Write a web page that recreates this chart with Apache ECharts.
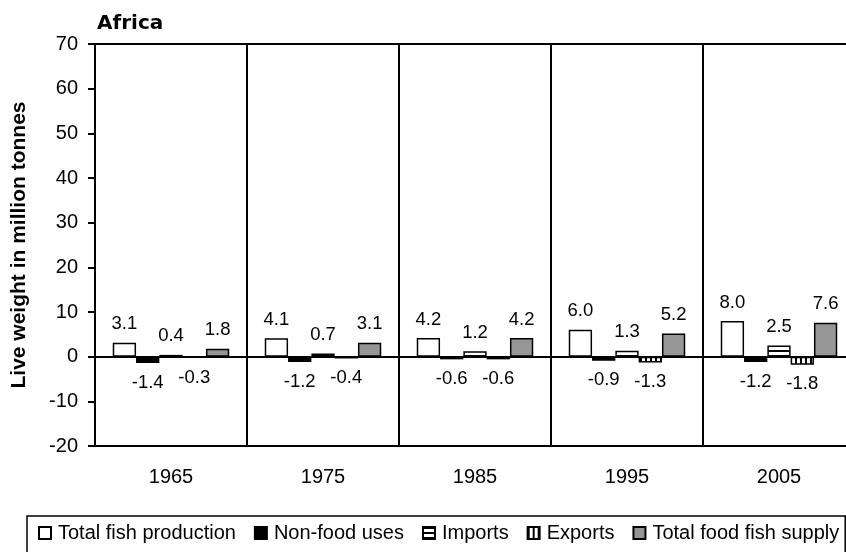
<!DOCTYPE html>
<html>
<head>
<meta charset="utf-8">
<script src="https://cdn.jsdelivr.net/npm/echarts@6/dist/echarts.min.js"></script>
<style>html,body{margin:0;padding:0;background:#fff;}#c{width:846px;height:552px;}</style>
</head>
<body>
<div id="c"></div>
<script>
const years = ['1965', '1975', '1985', '1995', '2005'];
const totalProduction = [3.1, 4.1, 4.2, 6.0, 8.0];
const nonFoodUses = [-1.4, -1.2, -0.6, -0.9, -1.2];
const imports = [0.4, 0.7, 1.2, 1.3, 2.5];
const exportsData = [-0.3, -0.4, -0.6, -1.3, -1.8];
const foodSupply = [1.8, 3.1, 4.2, 5.2, 7.6];
const seriesNames = ['Total fish production', 'Non-food uses', 'Imports', 'Exports', 'Total food fish supply'];
const yTicks = [-20, -10, 0, 10, 20, 30, 40, 50, 60, 70];

function makePattern(horizontal) {
  const c = document.createElement('canvas');
  c.width = 5; c.height = 5;
  const ctx = c.getContext('2d');
  ctx.fillStyle = '#fff';
  ctx.fillRect(0, 0, 5, 5);
  ctx.fillStyle = '#000';
  if (horizontal) ctx.fillRect(0, 0, 5, 2);
  else ctx.fillRect(0, 0, 2, 5);
  return { image: c, repeat: 'repeat' };
}

const FONT = "'Liberation Sans', Arial, sans-serif";
const LEGEND_FS = 20;
const fills = ['#ffffff', '#000000', makePattern(true), makePattern(false), '#969696'];
const datas = [totalProduction, nonFoodUses, imports, exportsData, foodSupply];

// legend spacing so that the legend box spans the given width
const mc = document.createElement('canvas').getContext('2d');
mc.font = LEGEND_FS + 'px ' + FONT;
const iconW = 12, textPadL = 2;
let contentW = 0;
seriesNames.forEach(n => { contentW += iconW + 5 + textPadL + Math.ceil(mc.measureText(n).width); });
const legendLeft = 27, legendRight = 844, padL = 11, padR = 6;
const innerW = legendRight - legendLeft - padL - padR;
const legendGap = Math.max(6, Math.floor((innerW - contentW - 1) / (seriesNames.length - 1)));

const chart = echarts.init(document.getElementById('c'), null, { renderer: 'canvas' });

const series = datas.map((d, i) => ({
  name: seriesNames[i],
  type: 'bar',
  barWidth: 23.3,
  barGap: '0%',
  data: d.map(v => ({
    value: v,
    label: {
      show: true,
      position: v >= 0 ? 'top' : 'bottom',
      distance: v >= 0 ? 9 : 10,
      formatter: (p) => Number(p.value).toFixed(1),
      color: '#000',
      fontFamily: FONT,
      fontSize: 18.5
    }
  })),
  itemStyle: { color: fills[i], borderColor: '#000', borderWidth: 1.5 },
  emphasis: { disabled: true },
  silent: true,
  animation: false,
  markLine: i === 0 ? {
    silent: true,
    symbol: 'none',
    label: { show: false },
    lineStyle: { color: '#000', width: 2, type: 'solid' },
    data: [{ yAxis: 0 }],
    animation: false
  } : undefined
}));

chart.setOption({
  animation: false,
  backgroundColor: '#fff',
  title: {
    text: 'Africa',
    left: 92, top: 9,
    textStyle: { fontFamily: 'DejaVu Sans', fontWeight: 'bold', fontSize: 20, color: '#000' }
  },
  grid: { left: 95, width: 760, top: 44, height: 402, containLabel: false, outerBoundsMode: 'none' },
  legend: {
    data: seriesNames,
    left: legendLeft, top: 516,
    width: innerW + 40,
    orient: 'horizontal',
    itemWidth: iconW, itemHeight: 12, itemGap: legendGap,
    icon: 'rect',
    borderColor: '#000', borderWidth: 1.5,
    padding: [7, padR, 20, padL],
    textStyle: { fontFamily: FONT, fontSize: LEGEND_FS, color: '#000', padding: [0, 0, 0, textPadL] },
    selectedMode: false
  },
  xAxis: [{
    type: 'category',
    data: years,
    boundaryGap: true,
    axisLine: { show: true, onZero: false, lineStyle: { color: '#000', width: 2 } },
    axisTick: { show: false },
    axisLabel: { margin: 21, color: '#000', fontFamily: FONT, fontSize: 20 },
    splitLine: { show: true, lineStyle: { color: '#000', width: 2 } }
  }, {
    type: 'category',
    data: years,
    position: 'top',
    axisLine: { show: true, onZero: false, lineStyle: { color: '#000', width: 2 } },
    axisTick: { show: false },
    axisLabel: { show: false },
    splitLine: { show: false }
  }],
  yAxis: {
    type: 'value',
    min: yTicks[0], max: yTicks[yTicks.length - 1], interval: 10,
    name: 'Live weight in million tonnes',
    nameLocation: 'middle',
    nameGap: 65,
    nameRotate: 90,
    nameTextStyle: { fontFamily: FONT, fontWeight: 'bold', fontSize: 21, color: '#000' },
    axisLine: { show: true, lineStyle: { color: '#000', width: 2 } },
    axisTick: { show: true, inside: false, length: 7, lineStyle: { color: '#000', width: 2 } },
    axisLabel: { margin: 17, color: '#000', fontFamily: FONT, fontSize: 20 },
    splitLine: { show: false }
  },
  series: series
});
</script>
</body>
</html>
